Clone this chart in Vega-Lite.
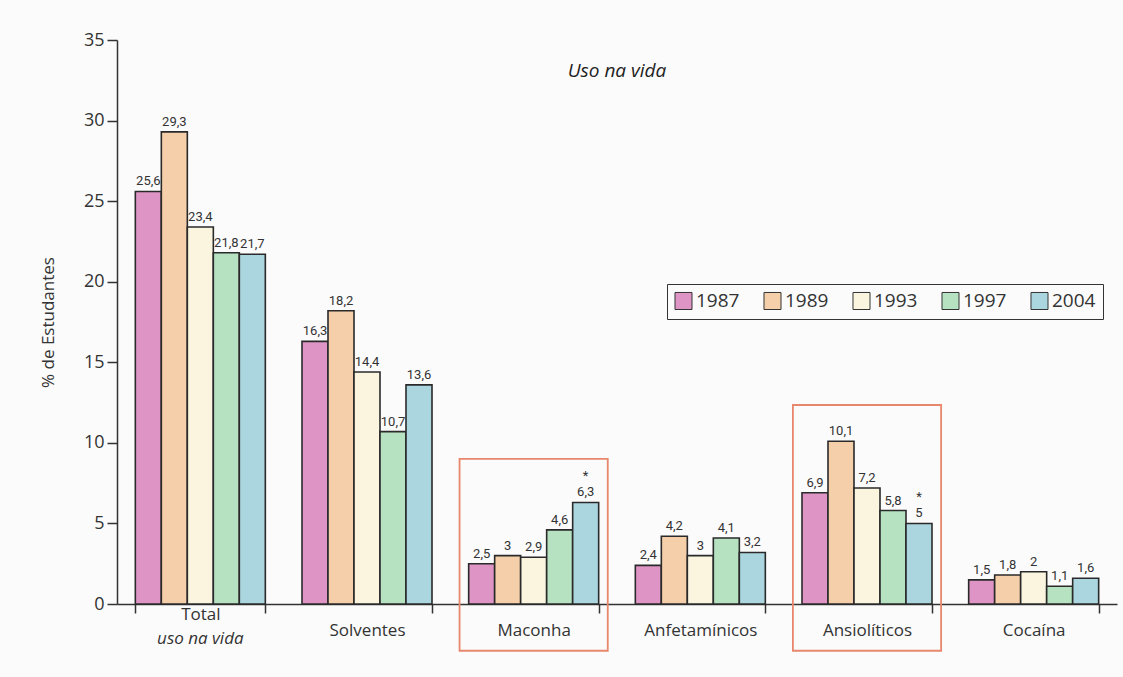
{
  "$schema": "https://vega.github.io/schema/vega-lite/v6.json",
  "width": 1000,
  "height": 564,
  "autosize": "none",
  "padding": {"left": 117, "top": 40, "right": 6, "bottom": 73},
  "background": "#fbfbfb",
  "title": {"text": "Uso na vida", "fontStyle": "italic", "fontWeight": "normal", "fontSize": 19, "font": "Open Sans", "color": "#222", "offset": -50, "anchor": "middle"},
  "datasets": {
    "bars": [
      {"cat": "Total", "year": "1987", "value": 25.6, "note": ""},
      {"cat": "Total", "year": "1989", "value": 29.3, "note": ""},
      {"cat": "Total", "year": "1993", "value": 23.4, "note": ""},
      {"cat": "Total", "year": "1997", "value": 21.8, "note": ""},
      {"cat": "Total", "year": "2004", "value": 21.7, "note": ""},
      {"cat": "Solventes", "year": "1987", "value": 16.3, "note": ""},
      {"cat": "Solventes", "year": "1989", "value": 18.2, "note": ""},
      {"cat": "Solventes", "year": "1993", "value": 14.4, "note": ""},
      {"cat": "Solventes", "year": "1997", "value": 10.7, "note": ""},
      {"cat": "Solventes", "year": "2004", "value": 13.6, "note": ""},
      {"cat": "Maconha", "year": "1987", "value": 2.5, "note": ""},
      {"cat": "Maconha", "year": "1989", "value": 3, "note": ""},
      {"cat": "Maconha", "year": "1993", "value": 2.9, "note": ""},
      {"cat": "Maconha", "year": "1997", "value": 4.6, "note": ""},
      {"cat": "Maconha", "year": "2004", "value": 6.3, "note": "*"},
      {"cat": "Anfetamínicos", "year": "1987", "value": 2.4, "note": ""},
      {"cat": "Anfetamínicos", "year": "1989", "value": 4.2, "note": ""},
      {"cat": "Anfetamínicos", "year": "1993", "value": 3, "note": ""},
      {"cat": "Anfetamínicos", "year": "1997", "value": 4.1, "note": ""},
      {"cat": "Anfetamínicos", "year": "2004", "value": 3.2, "note": ""},
      {"cat": "Ansiolíticos", "year": "1987", "value": 6.9, "note": ""},
      {"cat": "Ansiolíticos", "year": "1989", "value": 10.1, "note": ""},
      {"cat": "Ansiolíticos", "year": "1993", "value": 7.2, "note": ""},
      {"cat": "Ansiolíticos", "year": "1997", "value": 5.8, "note": ""},
      {"cat": "Ansiolíticos", "year": "2004", "value": 5, "note": "*"},
      {"cat": "Cocaína", "year": "1987", "value": 1.5, "note": ""},
      {"cat": "Cocaína", "year": "1989", "value": 1.8, "note": ""},
      {"cat": "Cocaína", "year": "1993", "value": 2, "note": ""},
      {"cat": "Cocaína", "year": "1997", "value": 1.1, "note": ""},
      {"cat": "Cocaína", "year": "2004", "value": 1.6, "note": ""}
    ],
    "boxes": [
      {"cat": "Maconha", "lo": -2.9, "hi": 9.0},
      {"cat": "Ansiolíticos", "lo": -2.9, "hi": 12.35}
    ]
  },
  "encoding": {
    "x": {
      "field": "cat", "type": "nominal",
      "sort": ["Total", "Solventes", "Maconha", "Anfetamínicos", "Ansiolíticos", "Cocaína"],
      "scale": {"paddingInner": 0.22, "paddingOuter": 0.11},
      "axis": {
        "title": null, "labelAngle": 0, "tickBand": "extent",
        "labelBaseline": "middle",
        "labelPadding": {"condition": {"test": "datum.value === 'Total'", "value": 1}, "value": 17},
        "tickSize": 9,
        "labelFontSize": 17, "labelFont": "Open Sans", "labelColor": "#333",
        "domainColor": "#333", "tickColor": "#333", "domainWidth": 1.5, "tickWidth": 1.5
      }
    }
  },
  "layer": [
    {
      "data": {"name": "bars"},
      "mark": {"type": "bar", "stroke": "#2a2a2a", "strokeWidth": 1.6},
      "encoding": {
        "xOffset": {"field": "year", "type": "nominal", "scale": {"paddingInner": 0, "paddingOuter": 0}},
        "y": {
          "field": "value", "type": "quantitative",
          "scale": {"domain": [0, 35], "nice": false},
          "axis": {
            "title": "% de Estudantes", "titleFont": "Open Sans", "titleFontSize": 17, "titleFontWeight": "normal",
            "titleColor": "#333", "titlePadding": 26,
            "values": [0, 5, 10, 15, 20, 25, 30, 35], "grid": false,
            "labelFontSize": 18, "labelFont": "Open Sans", "labelColor": "#333", "labelPadding": 3,
            "tickSize": 10, "domainColor": "#333", "tickColor": "#333", "domainWidth": 1.5, "tickWidth": 1.5
          }
        },
        "fill": {
          "field": "year", "type": "nominal",
          "scale": {"domain": ["1987", "1989", "1993", "1997", "2004"], "range": ["#df94c6", "#f4cfa9", "#fbf5e0", "#b6e2c2", "#acd6df"]},
          "legend": {
            "title": null, "orient": "none", "legendX": 550, "legendY": 244, "direction": "horizontal",
            "strokeColor": "#333", "padding": 7, "symbolType": "square", "symbolSize": 290,
            "symbolStrokeColor": "#333", "symbolStrokeWidth": 1, "labelFontSize": 19, "labelFont": "Open Sans",
            "labelColor": "#333", "columnPadding": 21, "symbolOffset": 0, "labelOffset": 3
          }
        }
      }
    },
    {
      "data": {"name": "bars"},
      "mark": {"type": "text", "baseline": "bottom", "dy": -3, "fontSize": 13, "font": "Roboto", "color": "#333"},
      "encoding": {
        "xOffset": {"field": "year", "type": "nominal"},
        "y": {"field": "value", "type": "quantitative"},
        "text": {"field": "value", "type": "quantitative", "format": ".1~f"}
      }
    },
    {
      "data": {"name": "bars"},
      "mark": {"type": "text", "baseline": "bottom", "dy": -19, "fontSize": 13, "font": "Roboto", "color": "#333"},
      "encoding": {
        "xOffset": {"field": "year", "type": "nominal"},
        "y": {"field": "value", "type": "quantitative"},
        "text": {"field": "note", "type": "nominal"}
      }
    },
    {
      "data": {"values": [{"sub": "uso na vida"}]},
      "mark": {"type": "text", "baseline": "middle", "fontSize": 17, "font": "Open Sans", "fontStyle": "italic", "color": "#333"},
      "encoding": {
        "x": {"datum": "Total"},
        "y": {"datum": -2.2},
        "text": {"field": "sub", "type": "nominal"}
      }
    },
    {
      "data": {"name": "boxes"},
      "mark": {"type": "bar", "fill": null, "fillOpacity": 0, "stroke": "#e8876c", "strokeWidth": 1.8, "width": {"band": 1.14}},
      "encoding": {
        "y": {"field": "lo", "type": "quantitative"},
        "y2": {"field": "hi"}
      }
    }
  ],
  "config": {
    "view": {"stroke": null},
    "locale": {"number": {"decimal": ",", "thousands": ".", "grouping": [3], "currency": ["R$", ""]}}
  }
}
